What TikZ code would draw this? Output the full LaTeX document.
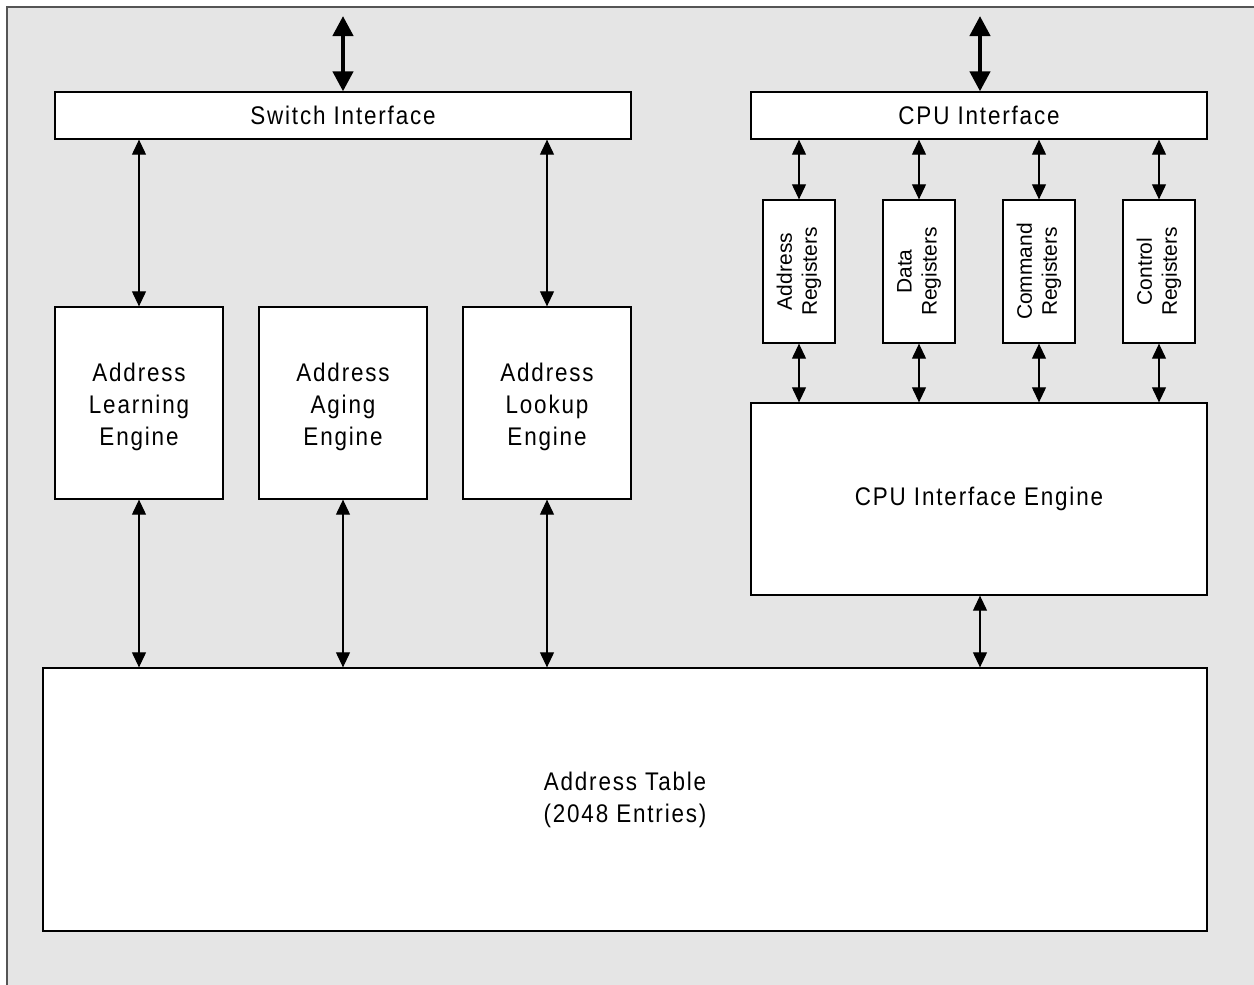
\documentclass[tikz,border=0pt]{standalone}
\usepackage{fontspec}
\setmainfont{Liberation Sans}
\newfontfamily\spaced[FakeStretch=0.88,LetterSpace=7.2]{Liberation Sans}
\usetikzlibrary{arrows.meta}
\definecolor{bggray}{HTML}{E5E5E5}
\definecolor{framegray}{HTML}{555555}
\tikzset{
  box/.style={draw=black, line width=1.3pt, fill=white, inner sep=0pt, align=center,
    font=\spaced\fontsize{25.5}{32}\selectfont},
  regbox/.style={draw=black, line width=1.3pt, fill=white, inner sep=0pt, align=center,
    minimum width=72pt, minimum height=143pt},
  regtext/.style={rotate=90, align=center, inner sep=0pt, font=\fontsize{21}{25}\selectfont},
  biarrow/.style={line width=1.1pt, {Triangle[length=15pt,width=14pt]}-{Triangle[length=15pt,width=14pt]}},
  bigarrow/.style={line width=4.3pt, {Triangle[length=20pt,width=20pt]}-{Triangle[length=20pt,width=20pt]}}
}
\begin{document}
\begin{tikzpicture}[x=1pt,y=-1pt]
\useasboundingbox (0,0) rectangle (1254,985);
\fill[white] (0,0) rectangle (1254,985);
\fill[bggray] (7,7) rectangle (1260,990);
\draw[framegray, line width=1.8pt] (7,990) -- (7,7) -- (1260,7);

% interfaces
\node[box, minimum width=576pt, minimum height=47pt] (sw) at (343,115.5) {Switch Interface};
\node[box, minimum width=456pt, minimum height=47pt] (cpu) at (979,115.5) {CPU Interface};

% engines
\node[box, minimum width=168pt, minimum height=192pt] (learn) at (139,403) {\\[-6pt]Address\\Learning\\Engine};
\node[box, minimum width=168pt, minimum height=192pt] (aging) at (343,403) {\\[-6pt]Address\\Aging\\Engine};
\node[box, minimum width=168pt, minimum height=192pt] (lookup) at (547,403) {\\[-6pt]Address\\Lookup\\Engine};

% registers
\node[regbox] (areg) at (799,271.5) {};
\node[regbox] (dreg) at (919,271.5) {};
\node[regbox] (creg) at (1039,271.5) {};
\node[regbox] (ctreg) at (1159,271.5) {};
\node[regtext] (aregt) at (areg.center) {Address\\Registers};
\node[regtext] (dregt) at (dreg.center) {Data\\Registers};
\node[regtext] (cregt) at (creg.center) {Command\\Registers};
\node[regtext] (ctregt) at (ctreg.center) {Control\\Registers};

% CPU interface engine
\node[box, minimum width=456pt, minimum height=192pt] (cpueng) at (979,499) {CPU Interface Engine};

% address table
\node[box, minimum width=1164pt, minimum height=263pt] (table) at (625,799.5) {Address Table\\(2048 Entries)};

% top big arrows
\coordinate (swtop) at (343,16);
\coordinate (cputop) at (980,16);
\draw[bigarrow] (swtop) -- (swtop |- sw.north);
\draw[bigarrow] (cputop) -- (cputop |- cpu.north);

% switch interface to engines
\draw[biarrow] (learn.north |- sw.south) -- (learn.north);
\draw[biarrow] (lookup.north |- sw.south) -- (lookup.north);

% engines to table
\draw[biarrow] (learn.south) -- (learn.south |- table.north);
\draw[biarrow] (aging.south) -- (aging.south |- table.north);
\draw[biarrow] (lookup.south) -- (lookup.south |- table.north);

% registers
\foreach \r in {areg,dreg,creg,ctreg}{
  \draw[biarrow] (\r.north |- cpu.south) -- (\r.north);
  \draw[biarrow] (\r.south) -- (\r.south |- cpueng.north);
}

% cpu engine to table
\coordinate (cpuengx) at (980,595);
\draw[biarrow] (cpuengx |- cpueng.south) -- (cpuengx |- table.north);
\end{tikzpicture}
\end{document}
